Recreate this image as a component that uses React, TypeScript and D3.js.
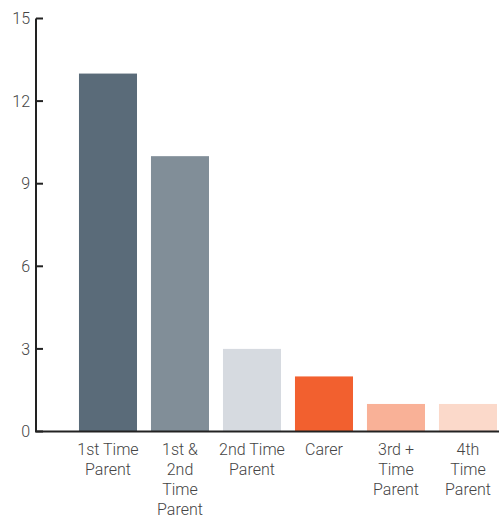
import React from "react";
import * as d3 from "d3";

const categories = [
  "1st Time Parent",
  "1st & 2nd Time Parent",
  "2nd Time Parent",
  "Carer",
  "3rd + Time Parent",
  "4th Time Parent",
];
const categoryLines = [
  ["1st Time", "Parent"],
  ["1st &", "2nd", "Time", "Parent"],
  ["2nd Time", "Parent"],
  ["Carer"],
  ["3rd +", "Time", "Parent"],
  ["4th", "Time", "Parent"],
];
const values = [13, 10, 3, 2, 1, 1];
const barColors = ["#5a6b79", "#818e98", "#d6dae0", "#f2602f", "#f9b197", "#fbd9ca"];
const yTicks = [0, 3, 6, 9, 12, 15];

const W = 499;
const H = 518;
const axisX = 36;
const baseY = 431.5;
const topY = 18.5;

export default function App() {
  const x = d3
    .scaleBand<string>()
    .domain(categories)
    .range([axisX, 504])
    .paddingInner(0.194)
    .paddingOuter(0.347)
    .align(0.86);
  const y = d3.scaleLinear().domain([0, 15]).range([baseY, topY]);
  const font = "Roboto, 'Helvetica Neue', Arial, sans-serif";

  return (
    <svg
      width={W}
      height={H}
      style={{ position: "absolute", left: 0, top: 0, background: "#fff" }}
      fontFamily={font}
    >
      {categories.map((c, i) => (
        <rect
          key={c}
          x={x(c)}
          y={y(values[i])}
          width={x.bandwidth()}
          height={baseY - y(values[i])}
          fill={barColors[i]}
        />
      ))}
      {/* y axis */}
      <line x1={axisX} x2={axisX} y1={y(15)} y2={baseY} stroke="#222" strokeWidth={2} />
      {yTicks.map((t) => (
        <g key={t}>
          <line x1={axisX} x2={axisX + 7} y1={y(t)} y2={y(t)} stroke="#222" strokeWidth={2} />
          <text
            x={30}
            y={y(t)}
            dy="0.36em"
            textAnchor="end"
            fontSize={16}
            fontWeight={300}
            fill="#444"
          >
            {t}
          </text>
        </g>
      ))}
      {/* x axis */}
      <line x1={axisX - 1} x2={W} y1={baseY} y2={baseY} stroke="#222" strokeWidth={2} />
      {categories.map((c, i) => (
        <text
          key={c}
          x={(x(c) as number) + x.bandwidth() / 2}
          y={455}
          textAnchor="middle"
          fontSize={16}
          fontWeight={300}
          fill="#444"
        >
          {categoryLines[i].map((l, j) => (
            <tspan key={j} x={(x(c) as number) + x.bandwidth() / 2} dy={j === 0 ? 0 : 20}>
              {l}
            </tspan>
          ))}
        </text>
      ))}
    </svg>
  );
}
